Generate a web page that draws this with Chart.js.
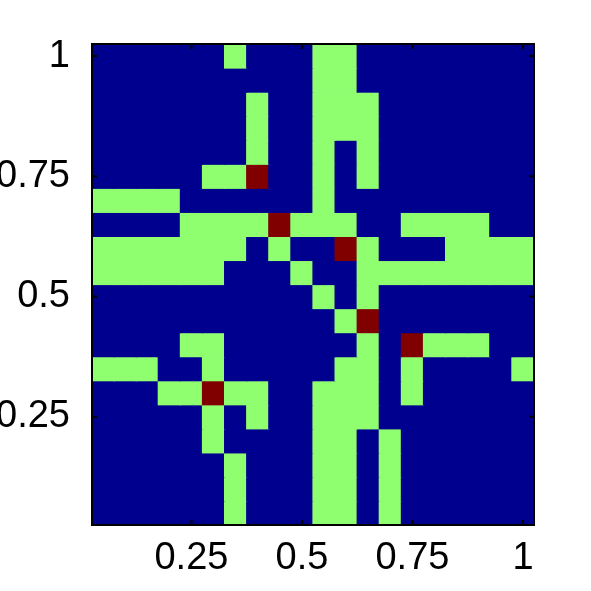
<!DOCTYPE html>
<html>
<head>
<meta charset="utf-8">
<script src="https://cdn.jsdelivr.net/npm/chart.js@4"></script>
<style>
  html, body { margin: 0; padding: 0; background: #ffffff; }
  #wrap { width: 591px; height: 591px; }
</style>
</head>
<body>
<div id="wrap"><canvas id="chart"></canvas></div>
<script>
// cell centres along each axis (rows listed top to bottom)
const xCenters = [0.05, 0.10, 0.15, 0.20, 0.25, 0.30, 0.35, 0.40, 0.45, 0.50,
                  0.55, 0.60, 0.65, 0.70, 0.75, 0.80, 0.85, 0.90, 0.95, 1.00];
const yCenters = [1.00, 0.95, 0.90, 0.85, 0.80, 0.75, 0.70, 0.65, 0.60, 0.55,
                  0.50, 0.45, 0.40, 0.35, 0.30, 0.25, 0.20, 0.15, 0.10, 0.05];
const xTicks = [0.25, 0.5, 0.75, 1];
const yTicks = [0.25, 0.5, 0.75, 1];

// 0 = low, 1 = mid, 2 = high
const cells = [
  [0,0,0,0,0,0,1,0,0,0,1,1,0,0,0,0,0,0,0,0],
  [0,0,0,0,0,0,0,0,0,0,1,1,0,0,0,0,0,0,0,0],
  [0,0,0,0,0,0,0,1,0,0,1,1,1,0,0,0,0,0,0,0],
  [0,0,0,0,0,0,0,1,0,0,1,1,1,0,0,0,0,0,0,0],
  [0,0,0,0,0,0,0,1,0,0,1,0,1,0,0,0,0,0,0,0],
  [0,0,0,0,0,1,1,2,0,0,1,0,1,0,0,0,0,0,0,0],
  [1,1,1,1,0,0,0,0,0,0,1,0,0,0,0,0,0,0,0,0],
  [0,0,0,0,1,1,1,1,2,1,1,1,0,0,1,1,1,1,0,0],
  [1,1,1,1,1,1,1,0,1,0,0,2,1,0,0,0,1,1,1,1],
  [1,1,1,1,1,1,0,0,0,1,0,0,1,1,1,1,1,1,1,1],
  [0,0,0,0,0,0,0,0,0,0,1,0,1,0,0,0,0,0,0,0],
  [0,0,0,0,0,0,0,0,0,0,0,1,2,0,0,0,0,0,0,0],
  [0,0,0,0,1,1,0,0,0,0,0,0,1,0,2,1,1,1,0,0],
  [1,1,1,0,0,1,0,0,0,0,0,1,1,0,1,0,0,0,0,1],
  [0,0,0,1,1,2,1,1,0,0,1,1,1,0,1,0,0,0,0,0],
  [0,0,0,0,0,1,0,1,0,0,1,1,1,0,0,0,0,0,0,0],
  [0,0,0,0,0,1,0,0,0,0,1,1,0,1,0,0,0,0,0,0],
  [0,0,0,0,0,0,1,0,0,0,1,1,0,1,0,0,0,0,0,0],
  [0,0,0,0,0,0,1,0,0,0,1,1,0,1,0,0,0,0,0,0],
  [0,0,0,0,0,0,1,0,0,0,1,1,0,1,0,0,0,0,0,0]
];

const palette = ['rgb(0,0,143)', 'rgb(143,255,112)', 'rgb(128,0,0)'];
const half = 0.025;
const tickFont = { family: '"Liberation Sans", Arial, sans-serif', size: 38 };

const datasets = cells.map((row, r) => ({
  data: xCenters.map(x => ({ x: x, y: [yCenters[r] - half, yCenters[r] + half] })),
  backgroundColor: row.map(v => palette[v]),
  borderWidth: 0,
  inflateAmount: 0.6,
  grouped: false,
  barPercentage: 1,
  categoryPercentage: 1
}));

// black box with inward tick marks on all four sides
const boxPlugin = {
  id: 'box',
  afterDraw(chart) {
    const { ctx, chartArea: a, scales } = chart;
    ctx.save();
    ctx.strokeStyle = '#000';
    ctx.lineWidth = 2;
    ctx.strokeRect(a.left, a.top, a.right - a.left, a.bottom - a.top);
    ctx.beginPath();
    xTicks.forEach(v => {
      const px = scales.x.getPixelForValue(v);
      ctx.moveTo(px, a.bottom); ctx.lineTo(px, a.bottom - 5);
      ctx.moveTo(px, a.top); ctx.lineTo(px, a.top + 5);
    });
    yTicks.forEach(v => {
      const py = scales.y.getPixelForValue(v);
      ctx.moveTo(a.left, py); ctx.lineTo(a.left + 5, py);
      ctx.moveTo(a.right, py); ctx.lineTo(a.right - 5, py);
    });
    ctx.stroke();
    ctx.restore();
  }
};

new Chart(document.getElementById('chart'), {
  type: 'bar',
  data: { datasets: datasets },
  options: {
    responsive: true,
    maintainAspectRatio: false,
    animation: false,
    layout: { padding: { top: 44, right: 57, left: 0, bottom: 0 } },
    plugins: { legend: { display: false }, tooltip: { enabled: false } },
    scales: {
      x: {
        type: 'linear',
        min: 0.025,
        max: 1.025,
        offset: false,
        grid: { display: false },
        border: { display: false },
        afterBuildTicks: s => { s.ticks = xTicks.map(v => ({ value: v })); },
        afterFit: s => { s.height = 66; },
        ticks: { color: '#000', font: tickFont, padding: 3, maxRotation: 0, autoSkip: false,
                 callback: v => String(v) }
      },
      y: {
        type: 'linear',
        min: 0.025,
        max: 1.025,
        grid: { display: false },
        border: { display: false },
        afterBuildTicks: s => { s.ticks = yTicks.map(v => ({ value: v })); },
        afterFit: s => { s.width = 92; },
        ticks: { color: '#000', font: tickFont, padding: 14, autoSkip: false,
                 callback: v => String(v) }
      }
    }
  },
  plugins: [boxPlugin]
});
</script>
</body>
</html>
